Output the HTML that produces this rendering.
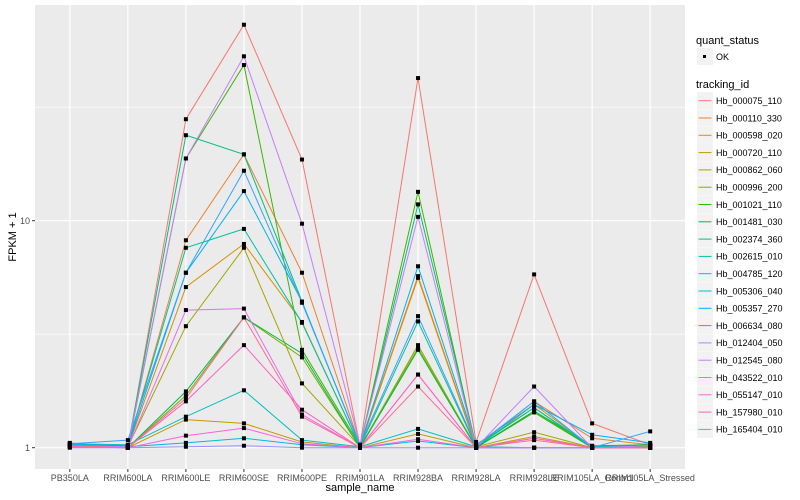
<!DOCTYPE html>
<html><head><meta charset="utf-8"><style>
body{margin:0;background:#fff;}
svg{display:block;font-family:"Liberation Sans",sans-serif;}
</style></head><body>
<svg id="chart" width="800" height="500" xmlns="http://www.w3.org/2000/svg"></svg>
<script>
const categories=["PB350LA","RRIM600LA","RRIM600LE","RRIM600SE","RRIM600PE","RRIM901LA","RRIM928BA","RRIM928LA","RRIM928LE","RRIM105LA_Control","RRIM105LA_Stressed"];
const seriesNames=["Hb_000075_110","Hb_000110_330","Hb_000598_020","Hb_000720_110","Hb_000862_060","Hb_000996_200","Hb_001021_110","Hb_001481_030","Hb_002374_360","Hb_002615_010","Hb_004785_120","Hb_005306_040","Hb_005357_270","Hb_006634_080","Hb_012404_050","Hb_012545_080","Hb_043522_010","Hb_055147_010","Hb_157980_010","Hb_165404_010"];
const seriesColors=["#F8766D","#EA8331","#D89000","#C09B00","#A3A500","#7CAE00","#39B600","#00BB4E","#00BF7D","#00C1A3","#00BFC4","#00BAE0","#00B0F6","#35A2FF","#9590FF","#C77CFF","#E76BF3","#FA62DB","#FF62BC","#FF6C91"];
const s0=[1.05,1.0,28,73,18.6,1.02,42.5,1.06,5.8,1.28,1.03];
const s1=[1.03,1.02,8.2,19.6,5.9,1.02,5.7,1.01,1.6,1.1,1.03];
const s2=[1.02,1.01,5.1,7.9,3.58,1.01,5.6,1.0,1.55,1.01,1.02];
const s3=[1.02,1.0,1.33,1.28,1.06,1.0,1.15,1.0,1.12,1.0,1.01];
const s4=[1.03,1.01,3.43,7.6,1.92,1.01,2.75,1.01,1.17,1.0,1.02];
const s5=[1.02,1.0,1.7,3.75,2.5,1.0,2.83,1.0,1.45,1.0,1.01];
const s6=[1.01,1.0,18.8,48.5,2.7,1.02,13.4,1.0,1.43,1.0,1.0];
const s7=[1.03,1.0,1.77,3.75,2.6,1.0,2.7,1.0,1.45,1.02,1.03];
const s8=[1.02,1.01,23.8,19.6,4.4,1.02,11.8,1.02,1.5,1.0,1.02];
const s9=[1.03,1.02,7.6,9.2,3.55,1.01,3.6,1.01,1.5,1.01,1.02];
const s10=[1.04,1.03,1.37,1.79,1.08,1.01,1.21,1.01,1.0,1.0,1.0];
const s11=[1.02,1.01,1.05,1.1,1.03,1.0,1.07,1.0,1.0,1.0,1.0];
const s12=[1.03,1.02,5.9,13.5,4.4,1.02,6.3,1.03,1.55,1.14,1.05];
const s13=[1.04,1.08,5.9,16.6,4.35,1.03,3.8,1.02,1.6,1.0,1.18];
const s14=[1.0,1.0,1.01,1.02,1.0,1.0,1.0,1.0,1.0,1.0,1.0];
const s15=[1.02,1.01,18.8,53,9.7,1.03,10.4,1.0,1.86,1.0,1.02];
const s16=[1.01,1.0,4.04,4.1,1.4,1.0,2.1,1.0,1.0,1.0,1.0];
const s17=[1.01,1.0,1.13,1.22,1.04,1.0,1.09,1.0,1.1,1.0,1.0];
const s18=[1.02,1.0,1.6,2.83,1.47,1.0,2.1,1.0,1.1,1.0,1.0];
const s19=[1.02,1.0,1.65,3.75,1.37,1.0,1.86,1.0,1.08,1.0,1.0];
const seriesValues=[s0,s1,s2,s3,s4,s5,s6,s7,s8,s9,s10,s11,s12,s13,s14,s15,s16,s17,s18,s19];
const yTicks=[1,10];
const yTickLabels=["1","10"];
const yMinor=[Math.sqrt(10),Math.sqrt(1000)];

const NS="http://www.w3.org/2000/svg";
const svg=document.getElementById('chart');
const P={l:35,r:685,t:5,b:469};
const step=(P.r-P.l)/(categories.length-1+1.2);
function xScale(i){return P.l+step*(0.6+i);}
function yScale(v){return 447.7-Math.log10(v)*227;}
function mk(tag,attrs,parent){const e=document.createElementNS(NS,tag);for(const k in attrs)e.setAttribute(k,attrs[k]);(parent||svg).appendChild(e);return e;}

const panel=mk('rect',{x:P.l,y:P.t,width:P.r-P.l,height:P.b-P.t,fill:'#EBEBEB'});


yMinor.forEach(v=>{const l=mk('line',{x1:P.l,x2:P.r,y1:yScale(v),y2:yScale(v),stroke:'#fff','stroke-width':0.6});

});
yTicks.forEach((v,i)=>{const y=yScale(v);
const l=mk('line',{x1:P.l,x2:P.r,y1:y,y2:y,stroke:'#fff','stroke-width':1.2});


const tk=mk('line',{x1:P.l-3,x2:P.l,y1:y,y2:y,stroke:'#333','stroke-width':1});


const t=mk('text',{x:P.l-5,y:y+3.5,'text-anchor':'end','font-size':9,fill:'#4d4d4d'});t.textContent=yTickLabels[i];

});
categories.forEach((c,i)=>{const x=xScale(i);
const l=mk('line',{x1:x,x2:x,y1:P.t,y2:P.b,stroke:'#fff','stroke-width':1.2});


const tk=mk('line',{x1:x,x2:x,y1:P.b,y2:P.b+3,stroke:'#333','stroke-width':1});


const t=mk('text',{x:x,y:P.b+12,'text-anchor':'middle','font-size':9,fill:'#4d4d4d'});t.textContent=c;

});

seriesValues.forEach((vals,si)=>{
const pts=vals.map((v,i)=>xScale(i).toFixed(1)+','+yScale(v).toFixed(1)).join(' ');
const pl=mk('polyline',{points:pts,fill:'none',stroke:seriesColors[si],'stroke-width':1});


});
seriesValues.forEach((vals,si)=>{vals.forEach((v,i)=>{
const r=mk('rect',{x:xScale(i)-2,y:yScale(v)-2,width:4,height:4,fill:'#000'});


});});

const yt=mk('text',{x:0,y:0,transform:'translate(16,237) rotate(-90)','text-anchor':'middle','font-size':11,fill:'#000'});yt.textContent='FPKM + 1';


const xt=mk('text',{x:(P.l+P.r)/2,y:491,'text-anchor':'middle','font-size':11,fill:'#000'});xt.textContent='sample_name';



// legend
const lt1=mk('text',{x:696,y:44,'font-size':11,fill:'#000'});lt1.textContent='quant_status';


const kb=mk('rect',{x:697,y:48,width:16,height:17,fill:'#F2F2F2'});


const kp=mk('rect',{x:703,y:55,width:3,height:3,fill:'#000'});


const okt=mk('text',{x:716,y:60,'font-size':9,fill:'#000'});okt.textContent='OK';


const lt2=mk('text',{x:696,y:88,'font-size':11,fill:'#000'});lt2.textContent='tracking_id';


seriesNames.forEach((n,i)=>{const cy=100.7+i*17.3;
const g=mk('g',{});


mk('rect',{x:697,y:cy-8.5,width:16,height:17,fill:'#F2F2F2'},g);
mk('line',{x1:698.5,x2:711.5,y1:cy,y2:cy,stroke:seriesColors[i],'stroke-width':1},g);
const t=mk('text',{x:716,y:cy+3.3,'font-size':9,fill:'#000'},g);t.textContent=n;});
</script>
</body></html>
